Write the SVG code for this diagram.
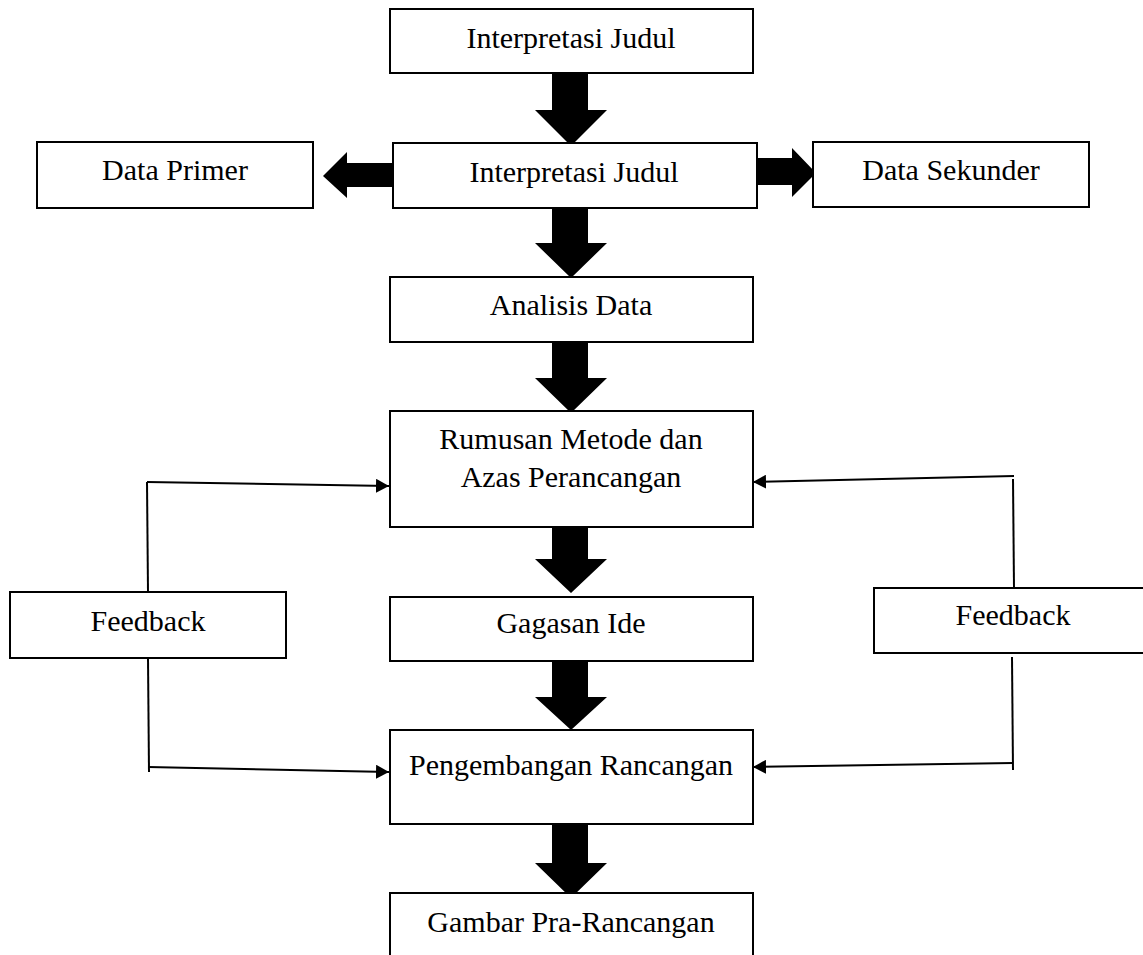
<svg xmlns="http://www.w3.org/2000/svg" width="1143" height="955" viewBox="0 0 1143 955">
<style>
.box{fill:#fff;stroke:#000;stroke-width:2}
.t{font-family:"Liberation Serif","Times New Roman",serif;font-size:30px;fill:#000;text-anchor:middle}
.big{fill:#000;stroke:none}
.ln{fill:none;stroke:#000;stroke-width:2}
</style>
<defs>
<marker id="ah" markerUnits="userSpaceOnUse" markerWidth="14" markerHeight="14" refX="13" refY="7" orient="auto">
<path d="M0,0 L13,7 L0,14 Z" fill="#000"/>
</marker>
</defs>
<rect width="1143" height="955" fill="#fff"/>
<g id="connectors">
<polygon class="big" points="552,68 588,68 588,110 607,110 571,146 535,110 552,110"/>
<polygon class="big" points="552,203 588,203 588,243 607,243 571,278 535,243 552,243"/>
<polygon class="big" points="552,337 588,337 588,378 607,378 571,413 535,378 552,378"/>
<polygon class="big" points="552,523 588,523 588,559 607,559 571,593 535,559 552,559"/>
<polygon class="big" points="552,656 588,656 588,697 607,697 571,730 535,697 552,697"/>
<polygon class="big" points="552,822 588,822 588,863 607,863 571,898 535,863 552,863"/>
<polygon class="big" points="392,163 347,163 347,152 323,176 347,198 347,187 392,187"/>
<polygon class="big" points="754,158 792,158 792,148 816,173 792,197 792,185 754,185"/>
<polyline class="ln" points="148,592 147,482"/>
<line class="ln" x1="147" y1="482" x2="389" y2="486" marker-end="url(#ah)"/>
<polyline class="ln" points="148,658 149,772"/>
<line class="ln" x1="148" y1="767" x2="389" y2="772" marker-end="url(#ah)"/>
<polyline class="ln" points="1013,479 1014,588"/>
<line class="ln" x1="1014" y1="476" x2="753" y2="482" marker-end="url(#ah)"/>
<polyline class="ln" points="1012,657 1013,770"/>
<line class="ln" x1="1013" y1="763" x2="753" y2="767" marker-end="url(#ah)"/>
</g>
<g id="n1"><rect class="box" x="390" y="9" width="363" height="64"/><text class="t" x="571" y="48">Interpretasi Judul</text></g>
<g id="n2"><rect class="box" x="393" y="143" width="364" height="65"/><text class="t" x="574" y="182">Interpretasi Judul</text></g>
<g id="n3"><rect class="box" x="37" y="142" width="276" height="66"/><text class="t" x="175" y="180">Data Primer</text></g>
<g id="n4"><rect class="box" x="813" y="142" width="276" height="65"/><text class="t" x="951" y="180">Data Sekunder</text></g>
<g id="n5"><rect class="box" x="390" y="277" width="363" height="65"/><text class="t" x="571" y="315">Analisis Data</text></g>
<g id="n6"><rect class="box" x="390" y="411" width="363" height="116"/><text class="t" x="571" y="449">Rumusan Metode dan</text><text class="t" x="571" y="487">Azas Perancangan</text></g>
<g id="n7"><rect class="box" x="390" y="597" width="363" height="64"/><text class="t" x="571" y="633">Gagasan Ide</text></g>
<g id="n8"><rect class="box" x="390" y="730" width="363" height="94"/><text class="t" x="571" y="775">Pengembangan Rancangan</text></g>
<g id="n9"><rect class="box" x="390" y="893" width="363" height="80"/><text class="t" x="571" y="932">Gambar Pra-Rancangan</text></g>
<g id="n10"><rect class="box" x="10" y="592" width="276" height="66"/><text class="t" x="148" y="631">Feedback</text></g>
<g id="n11"><rect class="box" x="874" y="588" width="290" height="65"/><text class="t" x="1013" y="625">Feedback</text></g>
</svg>
